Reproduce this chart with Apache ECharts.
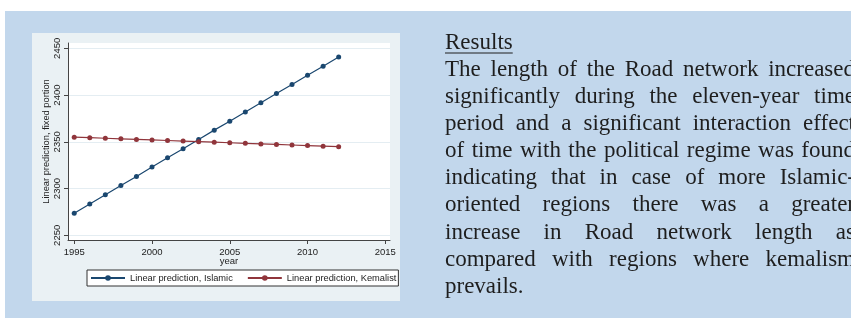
<!DOCTYPE html>
<html>
<head>
<meta charset="utf-8">
<script src="https://cdn.jsdelivr.net/npm/echarts@6/dist/echarts.min.js"></script>
<style>
html, body { margin: 0; padding: 0; background: #fff; }
#main { width: 851px; height: 318px; }
</style>
</head>
<body>
<div id="main"></div>
<script>
// data
var years = [1995, 1996, 1997, 1998, 1999, 2000, 2001, 2002, 2003, 2004, 2005, 2006, 2007, 2008, 2009, 2010, 2011, 2012];
var islamic = [2273.5, 2283.4, 2293.4, 2303.4, 2313.0, 2323.0, 2332.9, 2342.5, 2352.6, 2362.5, 2372.1, 2382.0, 2391.7, 2401.7, 2411.3, 2421.3, 2430.9, 2440.8];
var kemalist = [2355.0, 2354.4, 2353.8, 2353.2, 2352.6, 2352.0, 2351.4, 2350.8, 2350.2, 2349.6, 2349.0, 2348.4, 2347.8, 2347.2, 2346.6, 2346.0, 2345.4, 2344.8];
var xTicks = [1995, 2000, 2005, 2010, 2015];
var yTicks = [2250, 2300, 2350, 2400, 2450];
var seriesNames = ['Linear prediction, Islamic', 'Linear prediction, Kemalist'];

var heading = 'Results';
var textLines = [
	'The length of the Road network increased',
	'significantly during the eleven-year time',
	'period and a significant interaction effect',
	'of time with the political regime was found',
	'indicating that in case of more Islamic-',
	'oriented regions there was a greater',
	'increase in Road network length as',
	'compared with regions where kemalism',
	'prevails.'
];

var sans = "'Liberation Sans', Arial, sans-serif";
var serif = "'Liberation Serif', 'Times New Roman', serif";
var serifSize = 23;

function pairs(xs, ys) {
	var out = [];
	for (var i = 0; i < xs.length; i++) {
		out.push([xs[i], ys[i]]);
	}
	return out;
}

// justified paragraph, one text per word
function buildText() {
	var ctx = document.createElement('canvas').getContext('2d');
	ctx.font = serifSize + 'px ' + serif;
	var left = 445, right = 855;
	var firstBase = 50.5, step = 27.1, mid = 7.7;
	var els = [];
	els.push({
		type: 'text', x: left, y: firstBase - mid,
		style: { text: heading, font: serifSize + 'px ' + serif, fill: '#1e1e1e', verticalAlign: 'middle' }
	});
	var hw = ctx.measureText(heading).width;
	els.push({
		type: 'line', shape: { x1: left, y1: firstBase + 2.5, x2: left + hw, y2: firstBase + 2.5 },
		style: { stroke: '#1e1e1e', lineWidth: 1 }
	});
	var spaceW = ctx.measureText(' ').width;
	for (var i = 0; i < textLines.length; i++) {
		var words = textLines[i].split(' ');
		var total = 0;
		for (var j = 0; j < words.length; j++) total += ctx.measureText(words[j]).width;
		var gap = spaceW;
		if (i < textLines.length - 1 && words.length > 1) {
			gap = (right - left - total) / (words.length - 1);
		}
		var x = left;
		var base = firstBase + step * (i + 1);
		for (var k = 0; k < words.length; k++) {
			els.push({
				type: 'text', x: x, y: base - mid,
				style: { text: words[k], font: serifSize + 'px ' + serif, fill: '#1e1e1e', verticalAlign: 'middle' }
			});
			x += ctx.measureText(words[k]).width + gap;
		}
	}
	return els;
}

var chart = echarts.init(document.getElementById('main'));

var graphics = [
	{ type: 'rect', z: -20, shape: { x: 5, y: 11, width: 846, height: 307 }, style: { fill: '#c2d7ec' } },
	{ type: 'rect', z: -19, shape: { x: 32, y: 33, width: 368, height: 268 }, style: { fill: '#eaf1f4' } }
].concat(buildText());

var plain = function (v) { return String(v); };

var option = {
	backgroundColor: '#fff',
	animation: false,
	graphic: graphics,
	grid: {
		left: 68, right: 461, top: 43, bottom: 78,
		show: true, backgroundColor: '#fff', borderWidth: 0,
		outerBoundsMode: 'none'
	},
	legend: {
		left: 87, top: 270,
		itemWidth: 34, itemHeight: 7, itemGap: 14,
		padding: [3.5, 2, 3.5, 3],
		borderColor: '#333', borderWidth: 1, borderRadius: 0,
		backgroundColor: '#fff',
		textStyle: { fontFamily: sans, fontSize: 9.3, color: '#222' },
		data: seriesNames
	},
	xAxis: {
		type: 'value', min: 1994.6, max: 2015.3,
		name: 'year', nameLocation: 'middle', nameGap: 16, nameMoveOverlap: false,
		nameTextStyle: { fontFamily: sans, fontSize: 9.5, color: '#222' },
		axisLine: { show: true, lineStyle: { color: '#444', width: 1 } },
		axisTick: { show: true, length: 4, customValues: xTicks, lineStyle: { color: '#444' } },
		axisLabel: { customValues: xTicks, formatter: plain, margin: 7, fontFamily: sans, fontSize: 9.5, color: '#222' },
		splitLine: { show: false }
	},
	yAxis: {
		type: 'value', min: 2245, max: 2455.7,
		name: 'Linear prediction, fixed portion', nameLocation: 'middle', nameRotate: 90, nameGap: 17,
		nameMoveOverlap: false,
		nameTextStyle: { fontFamily: sans, fontSize: 9.3, color: '#222' },
		axisLine: { show: true, lineStyle: { color: '#444', width: 1 } },
		axisTick: { show: true, length: 4, customValues: yTicks, lineStyle: { color: '#444' } },
		axisLabel: { customValues: yTicks, formatter: plain, rotate: 90, margin: 6, fontFamily: sans, fontSize: 9.5, color: '#222' },
		splitLine: { show: true, lineStyle: { color: '#e4edf2', width: 1 } }
	},
	series: [
		{
			name: seriesNames[0], type: 'line',
			data: pairs(years, islamic),
			symbol: 'circle', symbolSize: 5,
			itemStyle: { color: '#1a476f' },
			lineStyle: { color: '#1a476f', width: 1.2 }
		},
		{
			name: seriesNames[1], type: 'line',
			data: pairs(years, kemalist),
			symbol: 'circle', symbolSize: 5,
			itemStyle: { color: '#90353b' },
			lineStyle: { color: '#90353b', width: 1.2 }
		}
	]
};

chart.setOption(option);
</script>
</body>
</html>
